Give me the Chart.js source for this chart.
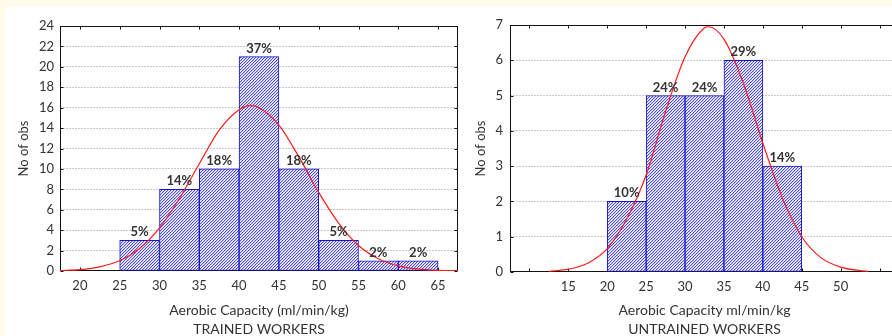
<!DOCTYPE html>
<html>
<head>
<meta charset="utf-8">
<script src="https://cdn.jsdelivr.net/npm/chart.js@4.4.1/dist/chart.umd.min.js"></script>
<style>
  html, body { margin: 0; padding: 0; width: 892px; height: 336px; overflow: hidden; background: #fffbea; }
  #panel { position: absolute; left: 5px; top: 7px; width: 900px; height: 340px; background: #fff; }
  #leftChart { position: absolute; left: 5px; top: 7px; }
  #rightChart { position: absolute; left: 462px; top: 7px; }
</style>
</head>
<body>
<div id="panel"></div>
<canvas id="leftChart" width="455" height="340"></canvas>
<canvas id="rightChart" width="440" height="340"></canvas>
<script>
// Trained workers: bins of 5 ml/min/kg (start of each bin)
const trainedBinStart = [25, 30, 35, 40, 45, 50, 55, 60];
const trainedCounts = [3, 8, 10, 21, 10, 3, 1, 1];
const trainedPct = ['5%', '14%', '18%', '37%', '18%', '5%', '2%', '2%'];
const trainedCurveX = [17.5, 20, 22.5, 25, 27.5, 30, 32.5, 35, 37.5, 40, 41.5, 42.5, 45, 47.5, 50, 52.5, 55, 57.5, 60, 62.5, 65, 67.5];
const trainedCurveY = [0.05, 0.14, 0.41, 1.0, 2.2, 4.2, 7.1, 10.5, 13.8, 15.8, 16.2, 16.0, 14.3, 11.2, 7.7, 4.7, 2.5, 1.2, 0.5, 0.18, 0.06, 0.02];
const trainedXTicks = [20, 25, 30, 35, 40, 45, 50, 55, 60, 65];
const trainedYTicks = [0, 2, 4, 6, 8, 10, 12, 14, 16, 18, 20, 22, 24];

// Untrained workers
const untrainedBinStart = [20, 25, 30, 35, 40];
const untrainedCounts = [2, 5, 5, 6, 3];
const untrainedPct = ['10%', '24%', '24%', '29%', '14%'];
const untrainedCurveX = [12.5, 15, 17.5, 20, 22.5, 25, 27.5, 30, 32.5, 33, 35, 37.5, 40, 42.5, 45, 47.5, 50, 52.5, 53.5];
const untrainedCurveY = [0.02, 0.08, 0.25, 0.66, 1.5, 2.75, 4.55, 6.1, 6.92, 6.95, 6.6, 5.35, 3.65, 2.1, 1.0, 0.4, 0.14, 0.04, 0.02];
const untrainedXTicks = [10, 15, 20, 25, 30, 35, 40, 45, 50, 55];
const untrainedXLabels = [15, 20, 25, 30, 35, 40, 45, 50];
const untrainedYTicks = [0, 1, 2, 3, 4, 5, 6, 7];

const BIN = 5;
const FONT = 'Lato, "Open Sans", sans-serif';
const TEXT = '#333';

// blue diagonal hatch
function hatch() {
  const c = document.createElement('canvas');
  c.width = 3; c.height = 3;
  const g = c.getContext('2d');
  g.fillStyle = '#fff';
  g.fillRect(0, 0, 3, 3);
  for (let x = 0; x < 3; x++) {
    for (let y = 0; y < 3; y++) {
      const k = (x + y) % 3;
      if (k === 0) { g.fillStyle = '#4a4ae0'; g.fillRect(x, y, 1, 1); }
      if (k === 1) { g.fillStyle = '#c4c4f6'; g.fillRect(x, y, 1, 1); }
    }
  }
  return g.createPattern(c, 'repeat');
}

// frame with small inward tick marks
const framePlugin = {
  id: 'frame',
  beforeDatasetsDraw(chart) {
    const { ctx, chartArea: a, scales: { x, y } } = chart;
    const l = Math.round(a.left) + 0.5, r = Math.round(a.right) - 0.5;
    const t = Math.round(a.top) + 0.5, b = Math.round(a.bottom) - 0.5;
    ctx.save();
    ctx.strokeStyle = '#111';
    ctx.lineWidth = 1;
    ctx.strokeRect(l, t, r - l, b - t);
    ctx.beginPath();
    x.ticks.forEach(tk => {
      const px = Math.round(x.getPixelForValue(tk.value)) + 0.5;
      ctx.moveTo(px, t); ctx.lineTo(px, t + 3);
      ctx.moveTo(px, b); ctx.lineTo(px, b - 3);
    });
    y.ticks.forEach(tk => {
      const py = Math.round(y.getPixelForValue(tk.value)) + 0.5;
      ctx.moveTo(l, py); ctx.lineTo(l + 3, py);
      ctx.moveTo(r, py); ctx.lineTo(r - 3, py);
    });
    ctx.stroke();
    ctx.restore();
  }
};

// percentage above each bar
const pctPlugin = {
  id: 'pct',
  afterDatasetsDraw(chart, args, opts) {
    const { ctx } = chart;
    const meta = chart.getDatasetMeta(0);
    ctx.save();
    ctx.font = 'bold 13px ' + FONT;
    ctx.fillStyle = TEXT;
    ctx.textAlign = 'center';
    ctx.textBaseline = 'alphabetic';
    meta.data.forEach((bar, i) => {
      ctx.fillText(opts.labels[i], bar.x, bar.y - 4);
    });
    ctx.restore();
  }
};

function makeChart(id, cfg) {
  const bars = cfg.binStart.map((s, i) => ({ x: s + BIN / 2, y: cfg.counts[i] }));
  const curve = cfg.curveX.map((v, i) => ({ x: v, y: cfg.curveY[i] }));
  const yMax = cfg.yTicks[cfg.yTicks.length - 1];
  return new Chart(document.getElementById(id), {
    type: 'bar',
    data: {
      datasets: [{
        type: 'bar',
        data: bars,
        backgroundColor: hatch(),
        borderColor: '#1414c8',
        borderWidth: 1,
        borderSkipped: false,
        barPercentage: 1,
        categoryPercentage: 1,
        grouped: false,
        order: 2
      }, {
        type: 'line',
        data: curve,
        borderColor: '#ff1a1a',
        borderWidth: 1.2,
        pointRadius: 0,
        cubicInterpolationMode: 'monotone',
        fill: false,
        order: 1
      }]
    },
    options: {
      responsive: false,
      animation: false,
      layout: { padding: { top: cfg.top, right: cfg.right, left: 0, bottom: 0 } },
      plugins: {
        legend: { display: false },
        tooltip: { enabled: false },
        pct: { labels: cfg.pct }
      },
      scales: {
        x: {
          type: 'linear',
          offset: false,
          min: cfg.xMin,
          max: cfg.xMax,
          afterBuildTicks: s => { s.ticks = cfg.xTicks.map(v => ({ value: v })); },
          afterFit: s => { s.height = cfg.xAxisHeight; },
          grid: { display: false, drawTicks: false },
          border: { display: false },
          ticks: {
            autoSkip: false,
            maxRotation: 0,
            padding: 7,
            color: TEXT,
            font: { family: FONT, size: 13 },
            callback: v => (cfg.xLabels.includes(v) ? String(v) : '')
          },
          title: {
            display: true,
            text: cfg.xTitle,
            color: TEXT,
            font: { family: FONT, size: 14, lineHeight: 1.36 },
            padding: { top: 0, bottom: 8 }
          }
        },
        y: {
          min: 0,
          max: yMax,
          afterBuildTicks: s => { s.ticks = cfg.yTicks.map(v => ({ value: v })); },
          afterFit: s => { s.width = cfg.yAxisWidth; },
          grid: {
            drawTicks: false,
            color: c => (c.tick && (c.tick.value === 0 || c.tick.value === yMax) ? 'rgba(0,0,0,0)' : '#c8c8c8')
          },
          border: { display: false, dash: [2, 1] },
          ticks: {
            padding: cfg.yPad,
            color: TEXT,
            font: { family: FONT, size: 13 }
          },
          title: {
            display: true,
            text: 'No of obs',
            color: TEXT,
            font: { family: FONT, size: 13 },
            padding: { top: 11, bottom: 0 }
          }
        }
      }
    },
    plugins: [framePlugin, pctPlugin]
  });
}

makeChart('leftChart', {
  binStart: trainedBinStart, counts: trainedCounts, pct: trainedPct,
  curveX: trainedCurveX, curveY: trainedCurveY,
  xTicks: trainedXTicks, xLabels: trainedXTicks, yTicks: trainedYTicks,
  xMin: 17.5, xMax: 67.5,
  xTitle: ['Aerobic Capacity (ml/min/kg)', 'TRAINED WORKERS'],
  top: 19, right: 2, xAxisHeight: 76, yAxisWidth: 55, yPad: 6
});

makeChart('rightChart', {
  binStart: untrainedBinStart, counts: untrainedCounts, pct: untrainedPct,
  curveX: untrainedCurveX, curveY: untrainedCurveY,
  xTicks: untrainedXTicks, xLabels: untrainedXLabels, yTicks: untrainedYTicks,
  xMin: 7.5, xMax: 57.5,
  xTitle: ['Aerobic Capacity ml/min/kg', 'UNTRAINED WORKERS'],
  top: 18, right: 3, xAxisHeight: 75, yAxisWidth: 48, yPad: 7
});
</script>
</body>
</html>
